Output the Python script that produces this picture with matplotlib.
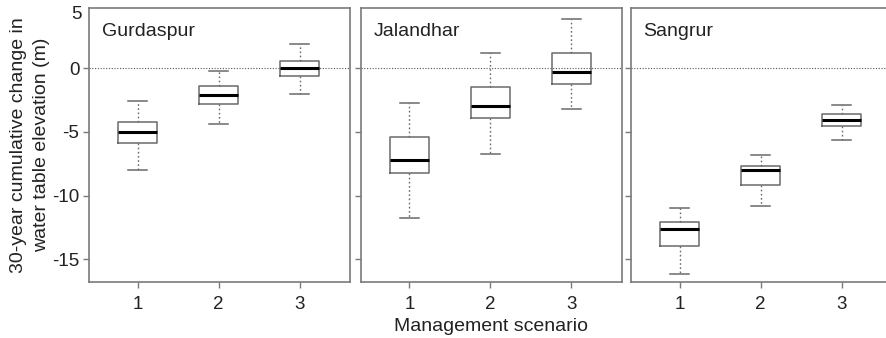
import matplotlib
matplotlib.use("Agg")
import matplotlib.pyplot as plt
from matplotlib.transforms import blended_transform_factory

plt.rcParams['font.family'] = ['Liberation Sans', 'DejaVu Sans']

districts = ["Gurdaspur", "Jalandhar", "Sangrur"]
scenarios = [1, 2, 3]

# five-number summaries per district, one value per scenario
whis_hi = {"Gurdaspur": [-2.57, -0.24, 1.92],
           "Jalandhar": [-2.76, 1.21, 3.88],
           "Sangrur": [-11.0, -6.85, -2.89]}
q3 = {"Gurdaspur": [-4.25, -1.36, 0.60],
      "Jalandhar": [-5.43, -1.47, 1.18],
      "Sangrur": [-12.1, -7.66, -3.57]}
median = {"Gurdaspur": [-5.0, -2.07, 0.03],
          "Jalandhar": [-7.17, -2.97, -0.26],
          "Sangrur": [-12.62, -8.03, -4.02]}
q1 = {"Gurdaspur": [-5.85, -2.83, -0.63],
      "Jalandhar": [-8.24, -3.94, -1.23],
      "Sangrur": [-13.96, -9.16, -4.54]}
whis_lo = {"Gurdaspur": [-8.0, -4.41, -2.02],
           "Jalandhar": [-11.76, -6.75, -3.2],
           "Sangrur": [-16.14, -10.79, -5.67]}

y_ticks = [-15, -10, -5, 0]
y_ticklabels = ["-15", "-10", "-5", "0"]

frame_col = "#7a7a7a"
box_col = "#6a6a6a"
text_col = "#222222"

fig = plt.figure(figsize=(8.87, 3.38), dpi=100)
W = 261 / 887
lefts = [89 / 887, 360.7 / 887, 631 / 887]
bottom = 1 - 282 / 338
height = (282 - 8) / 338

for i, name in enumerate(districts):
    ax = fig.add_axes([lefts[i], bottom, W, height])
    stats = []
    for j in range(len(scenarios)):
        stats.append({"med": median[name][j], "q1": q1[name][j],
                      "q3": q3[name][j], "whislo": whis_lo[name][j],
                      "whishi": whis_hi[name][j], "fliers": []})
    ax.bxp(stats, positions=scenarios, widths=0.48, showfliers=False,
           boxprops=dict(color=box_col, linewidth=1.1),
           medianprops=dict(color="black", linewidth=2.2),
           whiskerprops=dict(color=box_col, linewidth=1.0,
                             linestyle=(0, (1.2, 1.8))),
           capprops=dict(color=box_col, linewidth=1.1),
           capwidths=0.24)
    ax.axhline(0, color="#555555", linewidth=0.8, linestyle=(0, (1, 1.5)),
               zorder=0)
    ax.set_xlim(0.4, 3.62)
    ax.set_ylim(-16.8, 4.75)
    ax.set_xticks(scenarios)
    ax.set_xticklabels([str(s) for s in scenarios])
    ax.set_yticks(y_ticks)
    for sp in ax.spines.values():
        sp.set_color(frame_col)
        sp.set_linewidth(1.2)
    if i == 2:
        # the source image is cropped before the last panel's right edge
        ax.spines["right"].set_visible(False)
    ax.tick_params(axis="both", colors=frame_col, labelcolor=text_col,
                   labelsize=13.5, length=4, width=1.0, direction="out")
    ax.tick_params(axis="x", pad=6)
    ax.tick_params(axis="y", pad=3)
    if i == 0:
        ax.set_yticklabels(y_ticklabels)
        trans = blended_transform_factory(ax.transAxes, ax.transData)
        ax.text(-0.027, 4.2, "5", transform=trans, ha="right", va="center",
                fontsize=13.5, color=text_col)
        ax.set_ylabel("30-year cumulative change in\nwater table elevation (m)",
                      fontsize=14, color=text_col, linespacing=1.45,
                      va="center")
        ax.yaxis.set_label_coords(-0.226, 0.5)
    else:
        ax.set_yticklabels([])
    if i == 1:
        ax.set_xlabel("Management scenario", fontsize=14, color=text_col,
                      labelpad=4)
    ax.text(0.048, 0.945, name, transform=ax.transAxes, ha="left", va="top",
            fontsize=14, color=text_col)

fig.savefig("out.png", dpi=100)
